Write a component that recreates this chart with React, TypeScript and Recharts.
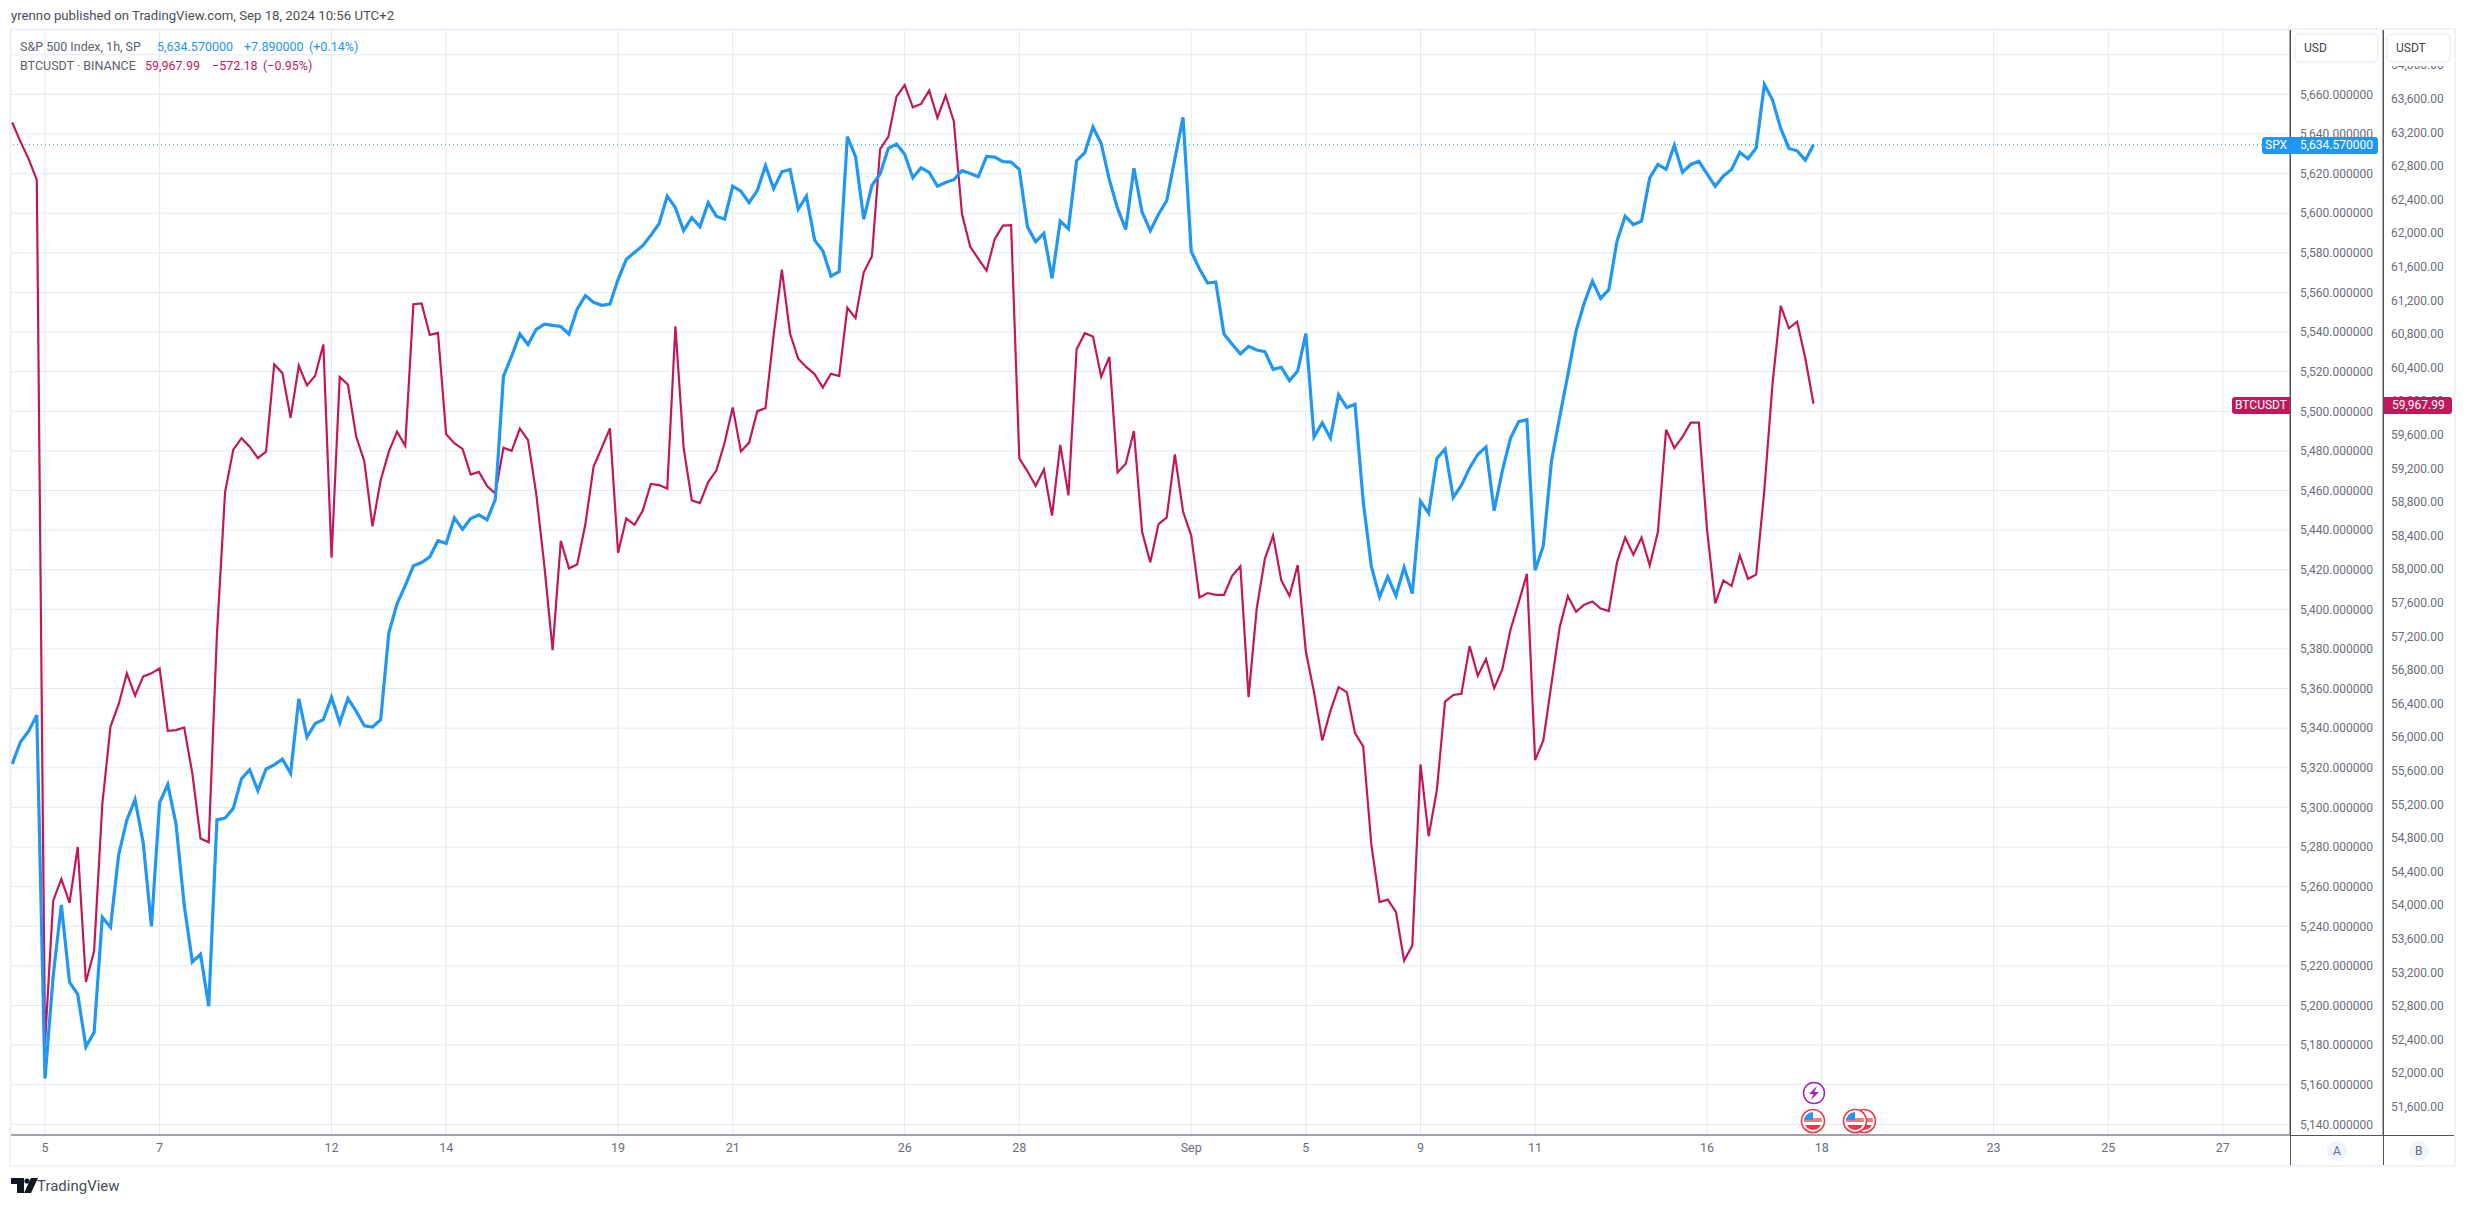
import { LineChart, Line, XAxis, YAxis, CartesianGrid, ReferenceLine } from 'recharts';

const FONT = 'Roboto, sans-serif';
const SPX_COLOR = '#2196f3';
const BTC_COLOR = '#c2185b';
const GRID = '#e2eaf1';
const AXIS = '#50535e';
const FRAME = '#f0f3fa';
const LABEL = '#6a6d78';

const spxValues = [
  5321.9, 5333, 5338.5, 5346.6, 5163.1, 5214.8, 5250.8, 5211.8, 5205.6, 5179.1,
  5186.5, 5244.6, 5239.5, 5276.1, 5293.7, 5304, 5282, 5239.9, 5302.4, 5311.6,
  5291.7, 5250.8, 5222, 5225.9, 5199.6, 5293.7, 5294.6, 5299.5, 5314.5, 5319,
  5308.5, 5319.4, 5321.5, 5324.4, 5317.2, 5354.8, 5335.5, 5342.4, 5344.3, 5355.6,
  5342.7, 5355, 5348.6, 5341.2, 5340.6, 5344.3, 5388.1, 5402.8, 5412, 5422,
  5423.6, 5426.5, 5434.6, 5433.3, 5446.2, 5440.4, 5445.8, 5447.7, 5445.2, 5455.5,
  5517.7, 5527.9, 5539, 5533.7, 5541.4, 5544, 5543.4, 5542.8, 5539, 5551.5,
  5558.4, 5555, 5553.5, 5554.1, 5566.6, 5576.7, 5580.2, 5583.6, 5588.9, 5594.7,
  5608.6, 5602.8, 5591.2, 5597.8, 5593.1, 5605.3, 5598.5, 5597, 5613.6, 5611.1,
  5605.3, 5611.5, 5624, 5612.4, 5620.9, 5622.1, 5602, 5608.6, 5586.4, 5581.1,
  5568.2, 5570.5, 5638.7, 5628.5, 5597, 5614, 5619.8, 5632.7, 5634.9, 5629.8,
  5617.9, 5622.9, 5620.6, 5613.6, 5615.5, 5616.9, 5621.5, 5620, 5618.4, 5628.7,
  5628.3, 5626, 5625.8, 5622.1, 5593.1, 5585.6, 5589.8, 5567.2, 5596, 5592.1,
  5626.5, 5630.6, 5643.5, 5635.2, 5616.9, 5602.4, 5591.8, 5622.7, 5600.5, 5591.2,
  5599.5, 5606.3, 5627.5, 5648.4, 5580.6, 5572, 5564.7, 5565.3, 5539, 5533.8,
  5529, 5532.8, 5530.9, 5530.1, 5521.2, 5522.2, 5515.5, 5520.3, 5539.2, 5487,
  5494.2, 5486.5, 5508.3, 5501.9, 5503.5, 5454.6, 5421.7, 5406.3, 5416.5, 5406.9,
  5421.2, 5408, 5454.6, 5448.6, 5476.2, 5480.9, 5456.5, 5462.7, 5471.4, 5478.2,
  5482, 5449.8, 5470.1, 5486.5, 5494.8, 5495.8, 5419.8, 5432, 5474.9, 5497.1,
  5518.4, 5540.6, 5554.7, 5565.7, 5557, 5561.4, 5585.9, 5598.5, 5594.3, 5596,
  5617.8, 5624.6, 5622.1, 5634.3, 5620.7, 5624.6, 5626.2, 5619.8, 5613.6, 5618.8,
  5622.1, 5630.8, 5627.5, 5632.9, 5665, 5657.1, 5642.8, 5632.7, 5631.5, 5626.8,
  5634.57,
];

const btcValues = [
  63317, 63089, 62884, 62634, 52350, 54050, 54311, 54027, 54692, 53085,
  53452, 55198, 56125, 56392, 56759, 56493, 56723, 56759, 56819, 56075,
  56084, 56116, 55565, 54794, 54748, 57219, 58920, 59422, 59558, 59458,
  59321, 59399, 60438, 60333, 59800, 60424, 60187, 60301, 60675, 58137,
  60287, 60196, 59581, 59285, 58510, 59057, 59399, 59636, 59467, 61153,
  61162, 60788, 60811, 59604, 59499, 59431, 59126, 59157, 58989, 58898,
  59444, 59408, 59672, 59536, 58898, 58032, 57035, 58337, 58009, 58055,
  58533, 59217, 59444, 59675, 58194, 58604, 58526, 58695, 59014, 59000,
  58959, 60891, 59447, 58818, 58786, 59037, 59173, 59501, 59925, 59401,
  59506, 59880, 59916, 60791, 61565, 60805, 60504, 60404, 60322, 60162,
  60326, 60299, 61110, 60987, 61533, 61725, 63000, 63146, 63625, 63761,
  63497, 63538, 63698, 63374, 63638, 63333, 62226, 61839, 61693, 61552,
  61930, 62089, 62094, 59319, 59164, 58991, 59187, 58636, 59479, 58877,
  60618, 60809, 60768, 60290, 60527, 59151, 59255, 59643, 58444, 58080,
  58536, 58613, 59365, 58686, 58399, 57661, 57715, 57693, 57693, 57921,
  58035, 56477, 57531, 58126, 58399, 57866, 57679, 58048, 57019, 56536,
  55959, 56312, 56596, 56536, 56049, 55890, 54721, 54035, 54065, 53920,
  53339, 53518, 55676, 54820, 55368, 56422, 56501, 56516, 57083, 56730,
  56929, 56581, 56810, 57282, 57605, 57943, 55726, 55959, 56636, 57307,
  57680, 57491, 57576, 57615, 57531, 57501, 58080, 58376, 58171, 58376,
  58044, 58444, 59661, 59442, 59574, 59743, 59743, 58467, 57592, 57866,
  57798, 58162, 57884, 57934, 58942, 60212, 61133, 60867, 60946, 60510,
  59967.99,
];

// bar number -> date label on the time scale
const dateTicks = [4, 18, 39, 53, 74, 88, 109, 123, 144, 158, 172, 186, 207, 221, 242, 256, 270];
const dateLabels = ['5', '7', '12', '14', '19', '21', '26', '28', 'Sep', '5', '9', '11', '16', '18', '23', '25', '27'];

// 5680 keeps its grid line, its label sits behind the USD box in the picture
const spxTicks = [
  5140, 5160, 5180, 5200, 5220, 5240, 5260, 5280, 5300, 5320, 5340, 5360, 5380, 5400,
  5420, 5440, 5460, 5480, 5500, 5520, 5540, 5560, 5580, 5600, 5620, 5640, 5660, 5680,
];
const btcTicks = [
  51600, 52000, 52400, 52800, 53200, 53600, 54000, 54400, 54800, 55200, 55600, 56000,
  56400, 56800, 57200, 57600, 58000, 58400, 58800, 59200, 59600, 60000, 60400, 60800,
  61200, 61600, 62000, 62400, 62800, 63200, 63600, 64000,
];

const chartData = spxValues.map((spx, i) => ({ bar: i, spx, btc: btcValues[i] }));

const formatFixed = (digits: number) => (v: number) =>
  v.toLocaleString('en-US', { minimumFractionDigits: digits, maximumFractionDigits: digits });

function Txt({ x, y, color, size = 13, children }: any) {
  return (
    <div
      style={{
        position: 'absolute', left: x, top: y - 10, height: 20, lineHeight: '20px',
        color, fontSize: size, whiteSpace: 'nowrap',
      }}
    >
      {children}
    </div>
  );
}

function Rect({ x, y, w, h, bg, radius, border }: any) {
  return (
    <div
      style={{
        position: 'absolute', left: x, top: y, width: w, height: h, background: bg,
        borderRadius: radius, border, boxSizing: 'border-box',
      }}
    />
  );
}

function Flag({ cx, cy, id }: { cx: number; cy: number; id: string }) {
  return (
    <g>
      <clipPath id={id}>
        <circle cx={cx} cy={cy} r={9} />
      </clipPath>
      <circle cx={cx} cy={cy} r={11.5} fill="#fff" stroke="#f23645" strokeWidth={1.6} />
      <g clipPath={`url(#${id})`}>
        <rect x={cx - 10} y={cy - 10} width={20} height={20} fill="#fff" />
        <rect x={cx - 10} y={cy - 3} width={20} height={4} fill="#f77c80" />
        <rect x={cx - 10} y={cy + 4} width={20} height={6} fill="#f23645" />
        <rect x={cx - 10} y={cy - 10} width={10} height={9} fill="#2196f3" />
      </g>
    </g>
  );
}

export default function App() {
  return (
    <div
      style={{
        position: 'absolute', left: 0, top: 0, width: 2466, height: 1205,
        background: '#fff', overflow: 'hidden', fontFamily: FONT,
      }}
    >
      <LineChart
        width={2466}
        height={1205}
        data={chartData}
        margin={{ top: 30, right: 12, left: 11, bottom: 40 }}
        style={{ fontFamily: FONT }}
      >
        <CartesianGrid yAxisId="A" stroke={GRID} strokeWidth={1} />
        <XAxis
          dataKey="bar"
          type="number"
          domain={[-0.15, 278.2]}
          allowDataOverflow
          ticks={dateTicks}
          interval={0}
          height={30}
          tickSize={0}
          tickMargin={8}
          tickFormatter={(v: number) => dateLabels[dateTicks.indexOf(v)]}
          tick={{ fill: LABEL, fontSize: 12.5 }}
          axisLine={{ stroke: AXIS, strokeWidth: 1 }}
          tickLine={false}
        />
        <YAxis
          yAxisId="A"
          orientation="right"
          width={93}
          domain={[5134.6, 5692.5]}
          allowDataOverflow
          ticks={spxTicks}
          interval={0}
          tickSize={0}
          tickMargin={10}
          tickFormatter={(v: number) => (v === 5680 ? '' : formatFixed(6)(v))}
          tick={{ fill: LABEL, fontSize: 12 }}
          axisLine={{ stroke: AXIS, strokeWidth: 1 }}
          tickLine={false}
        />
        <YAxis
          yAxisId="B"
          orientation="right"
          width={71}
          domain={[51263, 64418]}
          allowDataOverflow
          ticks={btcTicks}
          interval={0}
          tickSize={0}
          tickMargin={8}
          tickFormatter={formatFixed(2)}
          tick={{ fill: LABEL, fontSize: 12 }}
          axisLine={{ stroke: AXIS, strokeWidth: 1 }}
          tickLine={false}
        />
        <ReferenceLine yAxisId="A" y={5634.57} stroke={SPX_COLOR} strokeDasharray="1 3" />
        <Line
          yAxisId="B"
          dataKey="btc"
          stroke={BTC_COLOR}
          strokeWidth={2.2}
          dot={false}
          strokeLinejoin="miter"
          isAnimationActive={false}
        />
        <Line
          yAxisId="A"
          dataKey="spx"
          stroke={SPX_COLOR}
          strokeWidth={3.2}
          dot={false}
          strokeLinejoin="miter"
          isAnimationActive={false}
        />
      </LineChart>

      {/* frame round the chart and the parts of the axis lines the library does not reach */}
      <Rect x={10} y={28} w={2445} h={2} bg={FRAME} />
      <Rect x={10} y={1165} w={2445} h={2} bg={FRAME} />
      <Rect x={9} y={28} w={2} h={1139} bg={FRAME} />
      <Rect x={2454} y={28} w={2} h={1139} bg={FRAME} />
      <Rect x={2384} y={30} w={70} h={36} bg="#fff" />
      <Rect x={2290} y={1135} w={164} h={1} bg={AXIS} />
      <Rect x={2290} y={30} w={1} h={1135} bg={AXIS} />
      <Rect x={2383} y={30} w={1} h={1135} bg={AXIS} />

      <Txt x={11} y={16} color="#4a4d57" size={13.2}>
        yrenno published on TradingView.com, Sep 18, 2024 10:56 UTC+2
      </Txt>

      <Txt x={20} y={47} color="#5d606b" size={12.5}>S&amp;P 500 Index, 1h, SP</Txt>
      <Txt x={157} y={47} color={SPX_COLOR} size={12.5}>5,634.570000</Txt>
      <Txt x={244} y={47} color={SPX_COLOR} size={12.5}>+7.890000</Txt>
      <Txt x={309} y={47} color={SPX_COLOR} size={12.5}>(+0.14%)</Txt>
      <Txt x={20} y={66} color="#5d606b" size={12.5}>BTCUSDT · BINANCE</Txt>
      <Txt x={145} y={66} color={BTC_COLOR} size={12.5}>59,967.99</Txt>
      <Txt x={212} y={66} color={BTC_COLOR} size={12.5}>−572.18</Txt>
      <Txt x={263} y={66} color={BTC_COLOR} size={12.5}>(−0.95%)</Txt>

      <Rect x={2294} y={33} w={85} h={30} bg="#fff" radius={5} border={`2px solid ${FRAME}`} />
      <Rect x={2386} y={33} w={65} h={30} bg="#fff" radius={5} border={`2px solid ${FRAME}`} />
      <Txt x={2304} y={48} color="#3f424c" size={12}>USD</Txt>
      <Txt x={2396} y={48} color="#3f424c" size={12}>USDT</Txt>

      <Rect x={2262} y={137} w={29} h={17} bg={SPX_COLOR} radius="3px 0 0 3px" />
      <Rect x={2291} y={137} w={87} h={17} bg={SPX_COLOR} radius="0 3px 3px 0" />
      <Txt x={2265} y={145} color="#fff" size={12}>SPX</Txt>
      <Txt x={2300} y={145} color="#fff" size={12}>5,634.570000</Txt>

      <Rect x={2232} y={397} w={58} h={17} bg={BTC_COLOR} radius="3px 0 0 3px" />
      <Rect x={2384} y={397} w={68} h={17} bg={BTC_COLOR} radius="0 3px 3px 0" />
      <Txt x={2235} y={405} color="#fff" size={12}>BTCUSDT</Txt>
      <Txt x={2392} y={405} color="#fff" size={12}>59,967.99</Txt>

      <Rect x={2327} y={1141} w={20} h={20} bg={FRAME} radius={10} />
      <Rect x={2409} y={1141} w={20} h={20} bg={FRAME} radius={10} />
      <Txt x={2333} y={1151} color={LABEL} size={12}>A</Txt>
      <Txt x={2415} y={1151} color={LABEL} size={12}>B</Txt>

      {/* event markers and the logo */}
      <svg width={2466} height={1205} style={{ position: 'absolute', left: 0, top: 0, pointerEvents: 'none' }}>
        <circle cx={1814} cy={1093} r={10.5} fill="#fff" stroke="#9c27b0" strokeWidth={1.5} />
        <path d="M1817 1086 L1809 1094 L1813.5 1094 L1811 1100 L1819 1092 L1814.5 1092 Z" fill="#9c27b0" />
        <Flag cx={1864} cy={1121} id="flagC" />
        <Flag cx={1855} cy={1121} id="flagB" />
        <Flag cx={1813} cy={1121} id="flagA" />
        <path d="M11 1178 H24 V1193 H17 V1184 H11 Z" fill="#131722" />
        <circle cx={27} cy={1181} r={2.6} fill="#131722" />
        <path d="M31 1178 H38 L31 1193 H24 Z" fill="#131722" />
      </svg>
      <Txt x={37} y={1186} color="#4a4d57" size={15}>TradingView</Txt>
    </div>
  );
}
